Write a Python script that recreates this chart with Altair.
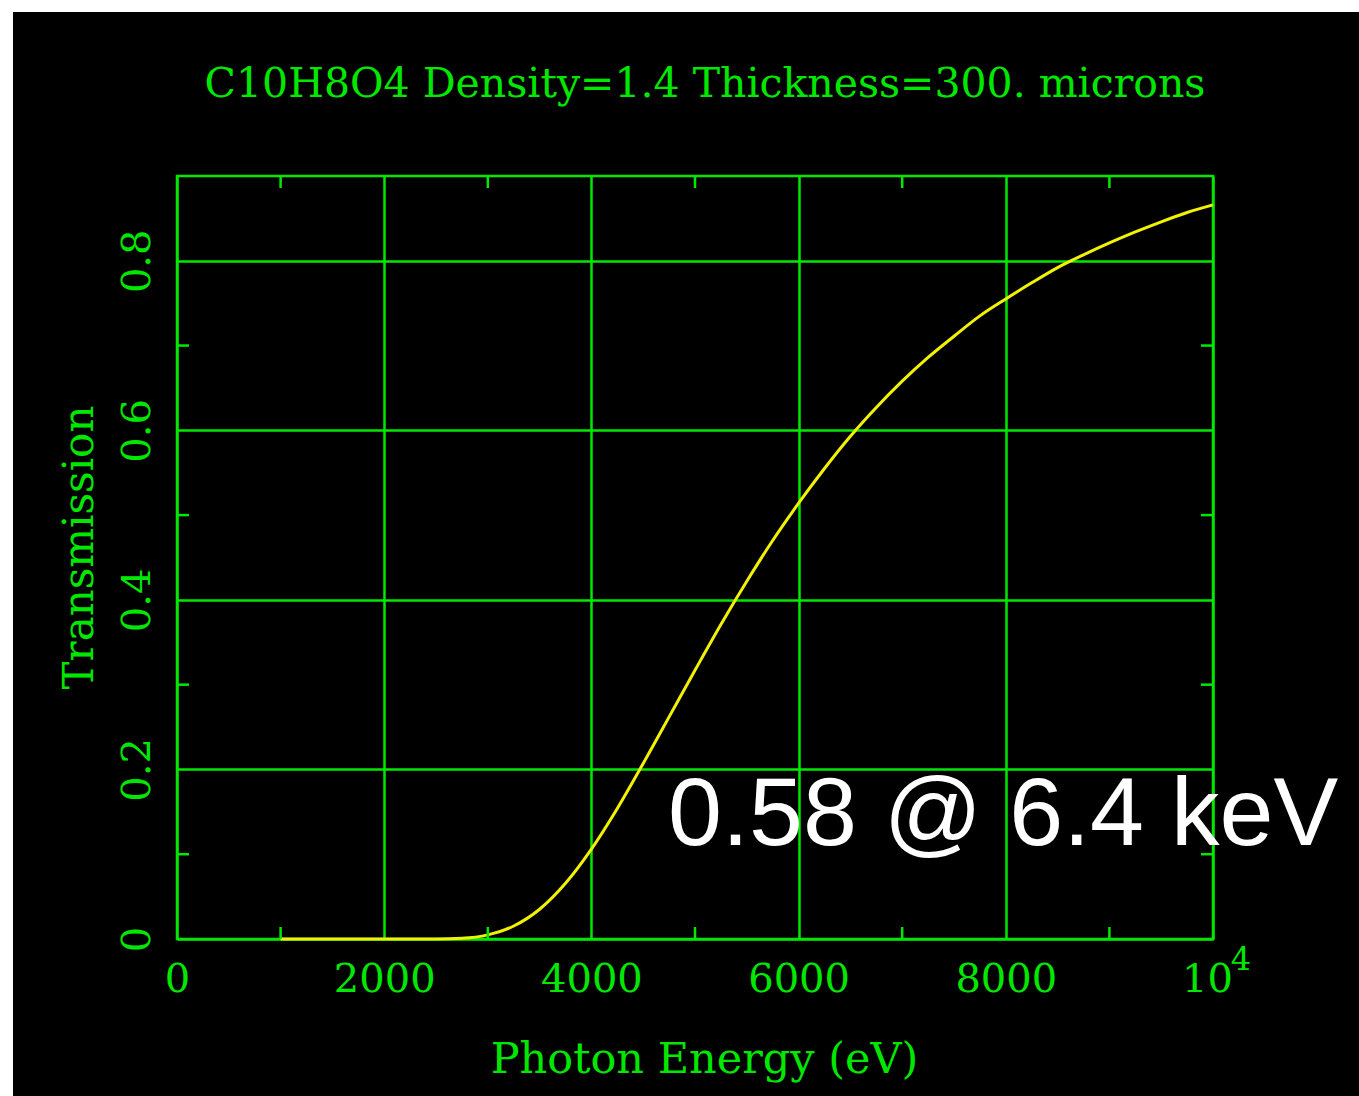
import altair as alt
import pandas as pd

# ---- data ----
energy = [1000, 1500, 2000, 2500, 2750, 3000, 3250, 3500, 3750, 4000, 4250, 4500,
          4750, 5000, 5250, 5500, 5750, 6000, 6250, 6500, 6750, 7000, 7250, 7500,
          7750, 8000, 8250, 8500, 8750, 9000, 9250, 9500, 9750, 10000]
transmission = [0.0, 0.0, 0.0, 0.0001, 0.0009, 0.0049, 0.0153, 0.0351, 0.0657, 0.106,
                0.154, 0.207, 0.262, 0.317, 0.371, 0.422, 0.470, 0.514, 0.555, 0.593,
                0.627, 0.658, 0.686, 0.711, 0.735, 0.755, 0.774, 0.792, 0.807, 0.821,
                0.834, 0.846, 0.857, 0.866]

x_ticks = [0, 2000, 4000, 6000, 8000, 10000]
x_tick_labels = ["0", "2000", "4000", "6000", "8000", "10"]
x_exponent = "4"
y_ticks = [0, 0.2, 0.4, 0.6, 0.8]
y_tick_labels = ["0", "0.2", "0.4", "0.6", "0.8"]
x_minor = [1000, 3000, 5000, 7000, 9000]
y_minor = [0.1, 0.3, 0.5, 0.7]

title_text = ["C10H8O4 Density=1.4 Thickness=300. microns"]
x_title = "Photon Energy (eV)"
y_title = "Transmission"
annotation = ["0.58 @ 6.4 keV"]
annotation_x = [4740]
annotation_y = [0.111]

# ---- styling ----
G = "#00e800"
Y = "#f2f200"
FONT = "DejaVu Serif"
W, H = 1036, 763

curve = pd.DataFrame({"energy": energy, "t": transmission})
xm = pd.DataFrame({"xm": x_minor})
ym = pd.DataFrame({"ym": y_minor})
ann = pd.DataFrame({"x": annotation_x, "y": annotation_y, "label": annotation})
exp_df = pd.DataFrame({"x": [x_ticks[-1]], "y": [0.0], "label": [x_exponent]})
title_df = pd.DataFrame({"label": title_text})
one = pd.DataFrame({"a": [0]})

xs = alt.Scale(domain=[0, 10000], nice=False, zero=False)
ys = alt.Scale(domain=[0, 0.9], nice=False)


def label_expr(vals, labs):
    parts = [f"abs(datum.value - {v}) < 1e-9 ? '{l}'" for v, l in zip(vals, labs)]
    return " : ".join(parts) + " : ''"


x_axis = alt.Axis(
    values=x_ticks, labelExpr=label_expr(x_ticks, x_tick_labels),
    labelOffset={"condition": {"test": f"datum.value == {x_ticks[-1]}", "value": -6}, "value": 0},
    grid=True, gridColor=G, gridWidth=2.5, ticks=False, domain=False,
    labelFont=FONT, labelFontSize=40, labelColor=G, labelPadding=20,
    labelFlush=False, labelOverlap=False,
    title=x_title, titleFont=FONT, titleFontSize=43, titleFontWeight="normal",
    titleColor=G, titleX=527, titleY=133, titleAlign="center",
    titleBaseline="alphabetic",
)
y_axis = alt.Axis(
    values=y_ticks, labelExpr=label_expr(y_ticks, y_tick_labels),
    grid=True, gridColor=G, gridWidth=2.5, ticks=False, domain=False,
    labelFont=FONT, labelFontSize=40, labelColor=G, labelPadding=28,
    labelAngle=270, labelAlign="center", labelBaseline="alphabetic",
    labelFlush=False, labelOverlap=False,
    title=y_title, titleFont=FONT, titleFontSize=42, titleFontWeight="normal",
    titleColor=G, titleAngle=270, titleX=-85, titleY=371, titleAlign="center",
    titleBaseline="alphabetic",
)

line = alt.Chart(curve).mark_line(color=Y, strokeWidth=3, interpolate="monotone").encode(
    x=alt.X("energy:Q", scale=xs, axis=x_axis),
    y=alt.Y("t:Q", scale=ys, axis=y_axis),
)

tick_style = dict(color=G, strokeWidth=2.5)
bottom_ticks = alt.Chart(xm).mark_rule(**tick_style).encode(
    x=alt.X("xm:Q", scale=xs), y=alt.value(H), y2=alt.value(H - 12))
top_ticks = alt.Chart(xm).mark_rule(**tick_style).encode(
    x=alt.X("xm:Q", scale=xs), y=alt.value(0), y2=alt.value(12))
left_ticks = alt.Chart(ym).mark_rule(**tick_style).encode(
    y=alt.Y("ym:Q", scale=ys), x=alt.value(0), x2=alt.value(12))
right_ticks = alt.Chart(ym).mark_rule(**tick_style).encode(
    y=alt.Y("ym:Q", scale=ys), x=alt.value(W), x2=alt.value(W - 12))

exponent = alt.Chart(exp_df).mark_text(
    font=FONT, fontSize=32, color=G, align="center", baseline="alphabetic", dx=28, dy=31
).encode(x=alt.X("x:Q", scale=xs), y=alt.Y("y:Q", scale=ys), text="label:N")

annot = alt.Chart(ann).mark_text(
    font="Liberation Sans", fontSize=97, color="white", align="left", baseline="alphabetic"
).encode(x=alt.X("x:Q", scale=xs), y=alt.Y("y:Q", scale=ys), text="label:N")

title = alt.Chart(title_df).mark_text(
    font=FONT, fontSize=41, color=G, align="center", baseline="alphabetic"
).encode(x=alt.value(528), y=alt.value(-79), text="label:N")

# white page strips at top and left
strip_top = alt.Chart(one).mark_rect(color="white").encode(
    x=alt.value(-177), x2=alt.value(1182), y=alt.value(-176), y2=alt.value(-164))
strip_left = alt.Chart(one).mark_rect(color="white").encode(
    x=alt.value(-177), x2=alt.value(-164), y=alt.value(-176), y2=alt.value(920))

chart = alt.layer(
    line, bottom_ticks, top_ticks, left_ticks, right_ticks, exponent, annot, title,
    strip_top, strip_left
).properties(
    width=W, height=H,
    autosize=alt.AutoSizeParams(type="none"),
    padding={"left": 177, "top": 176, "right": 146, "bottom": 157},
    background="black",
).configure_view(stroke=G, strokeWidth=2.5)

chart.save("out.html", embed_options={"renderer": "svg", "actions": False})
